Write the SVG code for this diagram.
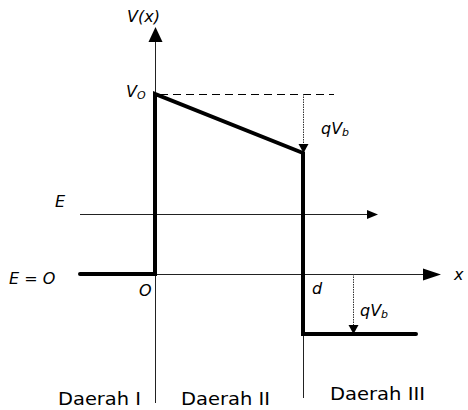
<svg xmlns="http://www.w3.org/2000/svg" width="468" height="410" viewBox="0 0 468 410">
<style>
.thin{stroke:#222;stroke-width:1;fill:none}
.thick{stroke:#000;stroke-width:4;fill:none;stroke-linejoin:miter}
.dash{stroke:#000;stroke-width:1;fill:none;stroke-dasharray:8 5}
.dot{stroke:#333;stroke-width:1;fill:none;stroke-dasharray:1.5 1}
.lbl{font-family:"DejaVu Sans",Verdana,sans-serif;font-style:italic;font-size:16px;fill:#000}
.sub{font-size:11px}
.reg{font-family:"DejaVu Sans",Verdana,sans-serif;font-size:18px;fill:#000}
</style>
<g id="connectors">
<line class="thin" x1="155.5" y1="403" x2="155.5" y2="42"/>
<path d="M148.5,42 L155.5,27 L162.5,42 z" fill="#000"/>
<line class="thin" x1="155" y1="274.5" x2="424" y2="274.5"/>
<path d="M423,268.5 L441,274.5 L423,280.5 z" fill="#000"/>
<line class="thin" x1="80" y1="214.5" x2="369" y2="214.5" stroke="#333"/>
<path d="M367,210 L378,214.5 L367,219 z" fill="#000"/>
<line class="dash" x1="160" y1="94.5" x2="334" y2="94.5"/>
<line class="dot" x1="303.5" y1="94" x2="303.5" y2="145"/>
<path d="M298.5,144 L303.5,153 L308.5,144 z" fill="#000"/>
<line class="dot" x1="353.5" y1="274" x2="353.5" y2="326"/>
<path d="M348.5,325 L353.5,334 L358.5,325 z" fill="#000"/>
<line class="thin" x1="303.5" y1="334" x2="303.5" y2="398"/>
</g>
<g id="potential">
<polyline class="thick" points="80,274 155,274 155,94 303,153 303,334 416,334" stroke-linecap="round"/>
</g>
<g id="labels">
<text class="lbl" x="127" y="22">V(x)</text>
<text class="lbl" x="126" y="97">V<tspan class="sub" dy="2">O</tspan></text>
<text class="lbl" x="321" y="134">qV<tspan class="sub" dy="2">b</tspan></text>
<text class="lbl" x="55" y="207">E</text>
<text class="lbl" x="9" y="284">E = O</text>
<text class="lbl" x="139" y="296">O</text>
<text class="lbl" x="312" y="294">d</text>
<text class="lbl" x="360" y="316">qV<tspan class="sub" dy="2">b</tspan></text>
<text class="lbl" x="454" y="280">x</text>
</g>
<g id="regions">
<text class="reg" x="58" y="405" textLength="83" lengthAdjust="spacingAndGlyphs">Daerah I</text>
<text class="reg" x="181" y="405" textLength="89" lengthAdjust="spacingAndGlyphs">Daerah II</text>
<text class="reg" x="330" y="400" textLength="95" lengthAdjust="spacingAndGlyphs">Daerah III</text>
</g>
</svg>
